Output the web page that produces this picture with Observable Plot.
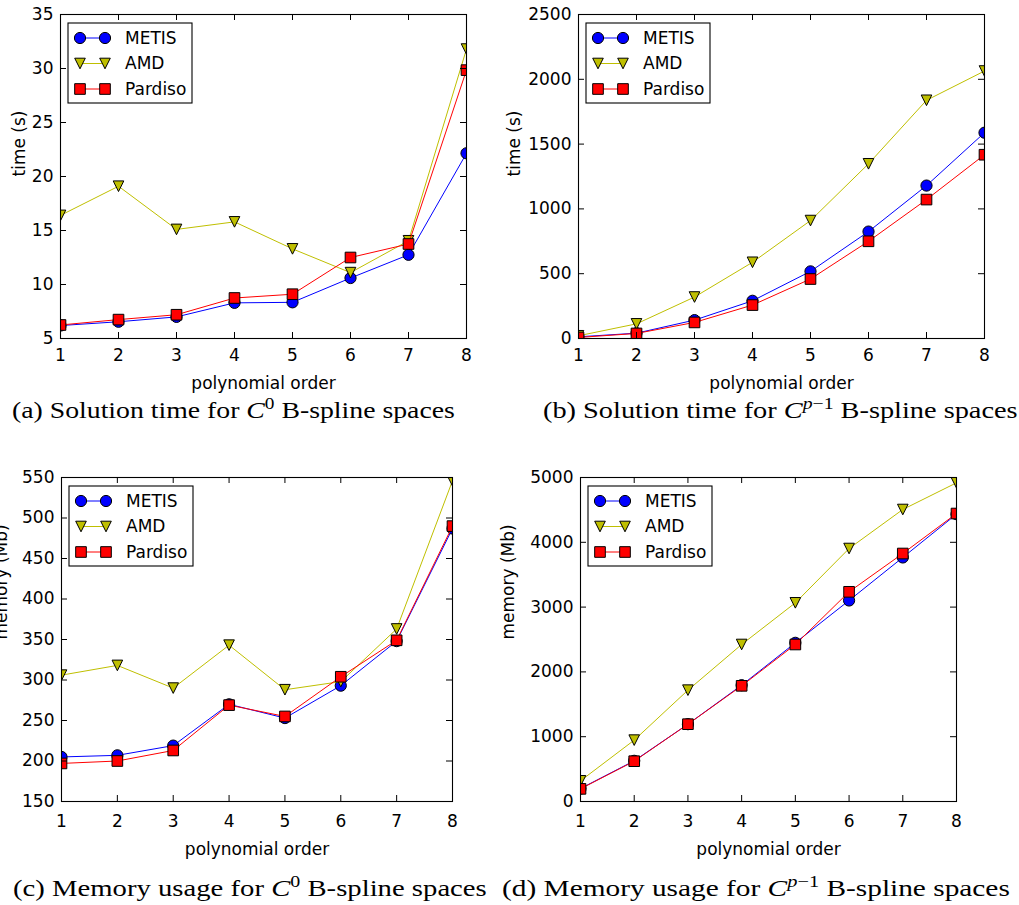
<!DOCTYPE html>
<html><head><meta charset="utf-8">
<script src="https://cdn.jsdelivr.net/npm/d3@7"></script>
<script src="https://cdn.jsdelivr.net/npm/@observablehq/plot@0.6"></script>
<style>
body{margin:0;background:#fff;}
#root{position:relative;width:1019px;height:905px;overflow:hidden;background:#fff;}
.panel{position:absolute;}
.panel svg{display:block;overflow:visible;}
#caps{position:absolute;left:0;top:0;}
</style></head><body><div id="root"></div>
<script>
// ---- data ----
const orders = [1, 2, 3, 4, 5, 6, 7, 8];
const seriesNames = ["METIS", "AMD", "Pardiso"];

const timeC0_METIS   = [6.2, 6.55, 7.0, 8.3, 8.35, 10.6, 12.75, 22.15];
const timeC0_AMD     = [16.4, 19.1, 15.1, 15.8, 13.3, 11.1, 14.05, 31.8];
const timeC0_Pardiso = [6.25, 6.75, 7.2, 8.75, 9.1, 12.5, 13.75, 29.85];

const timeCp_METIS   = [13, 41, 142, 291, 518, 825, 1180, 1588];
const timeCp_AMD     = [21, 113, 320, 588, 910, 1348, 1838, 2064];
const timeCp_Pardiso = [8, 39, 124, 258, 459, 750, 1072, 1418];

const memC0_METIS   = [205, 207, 219, 270, 253, 293, 348, 487];
const memC0_AMD     = [306, 318, 290, 343, 288, 298, 363, 546];
const memC0_Pardiso = [197, 200, 213, 269, 255, 304, 349, 490];

const memCp_METIS   = [200, 628, 1193, 1795, 2449, 3102, 3766, 4434];
const memCp_AMD     = [319, 947, 1718, 2423, 3066, 3904, 4506, 4918];
const memCp_Pardiso = [195, 622, 1193, 1785, 2423, 3236, 3827, 4444];

const ticksTimeC0 = [5, 10, 15, 20, 25, 30, 35];
const ticksTimeCp = [0, 500, 1000, 1500, 2000, 2500];
const ticksMemC0  = [150, 200, 250, 300, 350, 400, 450, 500, 550];
const ticksMemCp  = [0, 1000, 2000, 3000, 4000, 5000];

const xLabel = "polynomial order";
const captions = [
  {tag: "(a) Solution time for ", sup: "0", rest: " B-spline spaces"},
  {tag: "(b) Solution time for ", sup: "p\u22121", rest: " B-spline spaces"},
  {tag: "(c) Memory usage for ", sup: "0", rest: " B-spline spaces"},
  {tag: "(d) Memory usage for ", sup: "p\u22121", rest: " B-spline spaces"}
];

// ---- styles ----
const colors = ["#0000ff", "#bfbf00", "#ff0000"];
const triangleDown = {
  draw(ctx, size) {
    const r = Math.sqrt(size / Math.PI);
    ctx.moveTo(0, r); ctx.lineTo(-r, -r); ctx.lineTo(r, -r); ctx.closePath();
  }
};
const symbols = ["circle", triangleDown, "square"];
const radii = [5.6, 5.3, 6.0];
const FONT = "DejaVu Sans";

const panels = [
  {left: 0, top: 0, width: 505, height: 400, ml: 60, mr: 39, mt: 14, mb: 62,
   domain: [5, 35], ticks: ticksTimeC0, yLabel: "time (s)", yDx: -41, xPad: 10, xDy: 50,
   values: [timeC0_METIS, timeC0_AMD, timeC0_Pardiso]},
  {left: 505, top: 0, width: 514, height: 400, ml: 73, mr: 35, mt: 14, mb: 62,
   domain: [0, 2500], ticks: ticksTimeCp, yLabel: "time (s)", yDx: -64, xPad: 10, xDy: 50,
   values: [timeCp_METIS, timeCp_AMD, timeCp_Pardiso]},
  {left: 0, top: 460, width: 505, height: 400, ml: 61, mr: 53, mt: 17, mb: 59,
   domain: [150, 550], ticks: ticksMemC0, yLabel: "memory (Mb)", yDx: -60, xPad: 13, xDy: 53,
   values: [memC0_METIS, memC0_AMD, memC0_Pardiso]},
  {left: 505, top: 460, width: 514, height: 400, ml: 75, mr: 63, mt: 17, mb: 59,
   domain: [0, 5000], ticks: ticksMemCp, yLabel: "memory (Mb)", yDx: -72, xPad: 13, xDy: 53,
   values: [memCp_METIS, memCp_AMD, memCp_Pardiso]}
];

const root = document.getElementById("root");

panels.forEach(cfg => {
  const pw = cfg.width - cfg.ml - cfg.mr;
  const ph = cfg.height - cfg.mt - cfg.mb;
  const marks = [];
  seriesNames.forEach((s, i) => {
    const d = orders.map((o, j) => ({order: o, value: cfg.values[i][j], series: s}));
    marks.push(Plot.line(d, {x: "order", y: "value", stroke: colors[i], strokeWidth: 1, clip: true}));
    marks.push(Plot.dot(d, {x: "order", y: "value", symbol: symbols[i], r: radii[i],
      fill: colors[i], stroke: "#000", strokeWidth: 1, clip: true}));
  });
  const chart = Plot.plot({
    width: cfg.width, height: cfg.height,
    marginLeft: cfg.ml, marginRight: cfg.mr, marginTop: cfg.mt, marginBottom: cfg.mb,
    style: {fontFamily: FONT, fontSize: "17px", background: "transparent", color: "#000", overflow: "visible"},
    x: {domain: [1, 8]},
    y: {domain: cfg.domain},
    marks: [
      ...marks,
      Plot.frame({stroke: "#000", strokeWidth: 1.1}),
      Plot.tickX(orders, {x: d => d, insetTop: ph - 6, stroke: "#000"}),
      Plot.tickX(orders, {x: d => d, insetBottom: ph - 6, stroke: "#000"}),
      Plot.tickY(cfg.ticks, {y: d => d, insetRight: pw - 6, stroke: "#000"}),
      Plot.tickY(cfg.ticks, {y: d => d, insetLeft: pw - 6, stroke: "#000"}),
      Plot.axisX(orders, {tickSize: 0, tickPadding: cfg.xPad, fontSize: 17, label: null, tickFormat: d => String(d)}),
      Plot.axisY(cfg.ticks, {tickSize: 0, tickPadding: 7, fontSize: 17, label: null, tickFormat: d => String(d)}),
      Plot.text([xLabel], {frameAnchor: "bottom", dy: cfg.xDy, text: d => d, fontSize: 17, fill: "#000"}),
      Plot.text([cfg.yLabel], {frameAnchor: "left", dx: cfg.yDx, rotate: -90, text: d => d, fontSize: 17, fill: "#000"})
    ]
  });
  // legend
  const svg = d3.select(chart);
  const bx = cfg.ml + 8, by = cfg.mt + 9, bw = 124, bh = 80;
  const g = svg.append("g").attr("class", "legend");
  g.append("rect").attr("x", bx).attr("y", by).attr("width", bw).attr("height", bh)
    .attr("fill", "#fff").attr("stroke", "#000").attr("stroke-width", 1.1);
  const symGen = [d3.symbolCircle, triangleDown, d3.symbolSquare];
  seriesNames.forEach((s, i) => {
    const yy = by + 15 + i * 25.5;
    const x1 = bx + 12, x2 = bx + 37;
    g.append("line").attr("x1", x1).attr("x2", x2).attr("y1", yy).attr("y2", yy)
      .attr("stroke", colors[i]).attr("stroke-width", 1);
    [x1, x2].forEach(xx => {
      g.append("path").attr("d", d3.symbol(symGen[i], Math.PI * radii[i] * radii[i])())
        .attr("transform", `translate(${xx},${yy})`)
        .attr("fill", colors[i]).attr("stroke", "#000").attr("stroke-width", 1);
    });
    g.append("text").attr("x", bx + 57).attr("y", yy).attr("dy", "0.35em")
      .attr("text-anchor", "start")
      .attr("font-family", FONT).attr("font-size", 17).attr("fill", "#000").text(s);
  });
  const div = document.createElement("div");
  div.className = "panel";
  div.style.left = cfg.left + "px";
  div.style.top = cfg.top + "px";
  div.appendChild(chart);
  root.appendChild(div);
});

// ---- captions ----
const capPos = [
  {x: 12, y: 418, w: 443},
  {x: 543, y: 418, w: 475},
  {x: 13, y: 896, w: 474},
  {x: 502, y: 896, w: 508}
];
const capSvg = d3.select(root).append("svg").attr("id", "caps")
  .attr("width", 1019).attr("height", 905);
captions.forEach((c, i) => {
  const p = capPos[i];
  const t = capSvg.append("text").attr("x", p.x).attr("y", p.y)
    .attr("font-family", "'Liberation Serif', serif").attr("font-size", 23).attr("fill", "#000");
  t.append("tspan").text(c.tag);
  t.append("tspan").attr("font-style", "italic").text("C");
  const sup = t.append("tspan").attr("dy", -9).attr("font-size", 16);
  if (c.sup === "0") sup.text("0");
  else { sup.append("tspan").attr("font-style", "italic").text("p"); sup.append("tspan").text("\u22121"); }
  t.append("tspan").attr("dy", 9).text(c.rest);
  const bb = t.node().getBBox();
  const sx = p.w / bb.width;
  t.attr("transform", `translate(${p.x},0) scale(${sx},1) translate(${-p.x},0)`);
});
</script></body></html>
